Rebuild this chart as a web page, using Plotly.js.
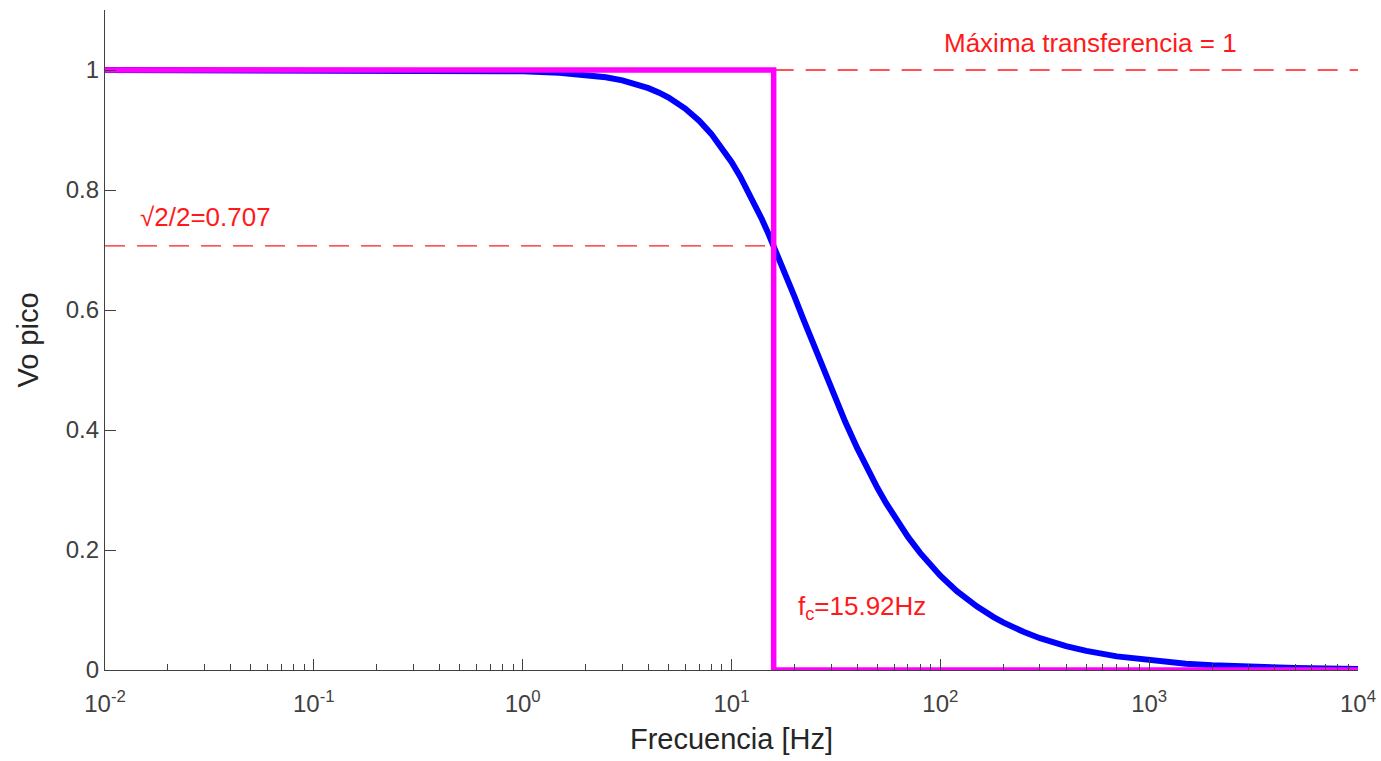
<!DOCTYPE html>
<html>
<head>
<meta charset="utf-8">
<script src="https://cdn.plot.ly/plotly-3.0.1.min.js"></script>
<style>html,body{margin:0;padding:0;background:#fff;}#chart{width:1381px;height:761px;}</style>
</head>
<body>
<div id="chart"></div>
<script>
// Blue curve: Vo pico
const freqHz = [0.01, 0.1, 0.3, 0.5, 0.7, 1, 1.5, 2, 2.5, 3, 3.5, 4, 4.5, 5, 6, 7, 8, 9, 10, 11, 12, 13, 14, 15, 15.92, 17, 18, 19, 20, 22, 25, 27, 30, 33, 35, 40, 45, 50, 55, 60, 70, 80, 90, 100, 120, 150, 180, 200, 250, 300, 400, 500, 700, 1000, 1500, 2000, 3000, 5000, 10000];
const voPico = [1, 1, 0.9998, 0.9995, 0.999, 0.998, 0.9956, 0.9922, 0.9879, 0.9827, 0.9767, 0.9698, 0.9623, 0.9541, 0.9357, 0.9154, 0.8936, 0.8705, 0.8467, 0.8227, 0.7985, 0.7746, 0.7509, 0.7278, 0.7071, 0.6835, 0.6625, 0.6422, 0.6228, 0.5862, 0.5371, 0.5079, 0.4687, 0.4345, 0.4141, 0.3698, 0.3335, 0.3033, 0.2780, 0.2565, 0.2218, 0.1952, 0.1742, 0.1572, 0.1315, 0.1056, 0.0881, 0.0793, 0.0636, 0.0530, 0.0398, 0.0318, 0.0227, 0.0159, 0.0106, 0.0080, 0.0053, 0.0032, 0.0016];
// Magenta ideal filter
const idealX = [0.01, 15.92, 15.92, 10000];
const idealY = [1, 1, 0, 0];
// Reference lines
const maxLineX = [15.92, 10000];
const maxLineY = [1, 1];
const halfLineX = [0.01, 15.92];
const halfLineY = [0.707, 0.707];
// Tick labels
const xTickVals = [0.01, 0.1, 1, 10, 100, 1000, 10000];
const xTickText = ['10<sup>-2</sup>', '10<sup>-1</sup>', '10<sup>0</sup>', '10<sup>1</sup>', '10<sup>2</sup>', '10<sup>3</sup>', '10<sup>4</sup>'];
const yTickVals = [0, 0.2, 0.4, 0.6, 0.8, 1];
const yTickText = ['0', '0.2', '0.4', '0.6', '0.8', '1'];

const red = '#ff1a1a';
const fam = 'Liberation Sans, Arial, sans-serif';
const traces = [
  {x: freqHz, y: voPico, mode: 'lines', line: {color: '#0000ff', width: 6}, hoverinfo: 'skip'},
  {x: halfLineX, y: halfLineY, mode: 'lines', line: {color: red, width: 1.3, dash: '20px,12px'}, hoverinfo: 'skip'},
  {x: maxLineX, y: maxLineY, mode: 'lines', line: {color: red, width: 1.3, dash: '20px,12px'}, hoverinfo: 'skip'},
  {x: idealX, y: idealY, mode: 'lines', line: {color: '#ff00ff', width: 5.5}, hoverinfo: 'skip'}
];

const layout = {
  width: 1381, height: 761,
  margin: {l: 105, r: 23, t: 10, b: 91},
  paper_bgcolor: '#fff', plot_bgcolor: '#fff',
  showlegend: false,
  font: {family: fam, size: 24, color: '#404040'},
  xaxis: {
    type: 'log', range: [-2, 4],
    tickvals: xTickVals, ticktext: xTickText,
    ticks: 'inside', ticklen: 11, tickwidth: 1, tickcolor: '#404040',
    minor: {ticks: 'inside', ticklen: 6, tickwidth: 1, tickcolor: '#404040', dtick: 'D1', showgrid: false},
    showline: true, linecolor: '#404040', linewidth: 1.2,
    showgrid: false, zeroline: false,
    ticklabelstandoff: 12,
    tickfont: {family: fam, size: 24, color: '#404040'},
    title: {text: 'Frecuencia [Hz]', font: {family: fam, size: 29, color: '#262626'}, standoff: 12}
  },
  yaxis: {
    range: [0, 1.1],
    tickvals: yTickVals, ticktext: yTickText,
    ticks: 'inside', ticklen: 11, tickwidth: 1, tickcolor: '#404040',
    showline: true, linecolor: '#404040', linewidth: 1.2,
    showgrid: false, zeroline: false,
    tickfont: {family: fam, size: 24, color: '#404040'},
    title: {text: 'Vo pico', font: {family: fam, size: 29, color: '#262626'}, standoff: 18}
  },
  annotations: [
    {x: Math.log10(525), y: 1.045, xref: 'x', yref: 'y', text: 'Máxima transferencia = 1', showarrow: false, xanchor: 'center', yanchor: 'middle', font: {family: fam, size: 26, color: red}},
    {x: -1.84, y: 0.755, xref: 'x', yref: 'y', text: '√2/2=0.707', showarrow: false, xanchor: 'left', yanchor: 'middle', font: {family: fam, size: 26, color: red}},
    {x: 1.31, y: 0.105, xref: 'x', yref: 'y', text: 'f<sub>c</sub>=15.92Hz', showarrow: false, xanchor: 'left', yanchor: 'middle', font: {family: fam, size: 26, color: red}}
  ]
};
Plotly.newPlot('chart', traces, layout, {displayModeBar: false, staticPlot: true});
</script>
</body>
</html>
